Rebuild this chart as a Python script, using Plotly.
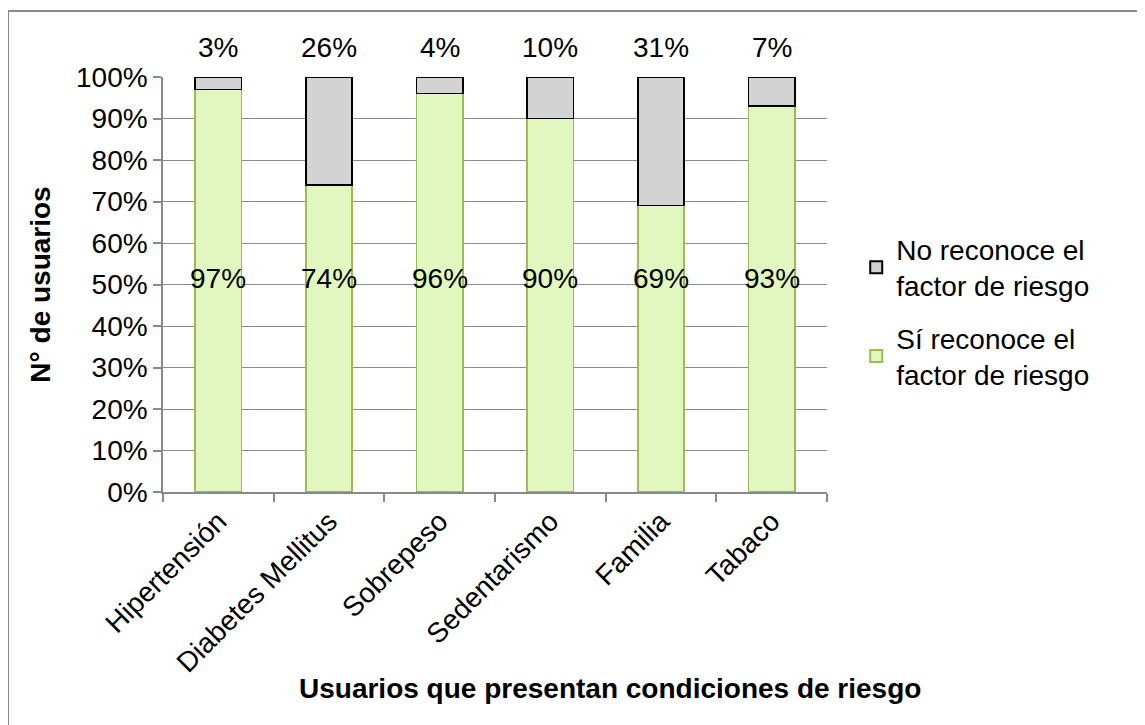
import plotly.graph_objects as go

categories = ["Hipertensión", "Diabetes Mellitus", "Sobrepeso", "Sedentarismo", "Familia", "Tabaco"]
si_reconoce = [97, 74, 96, 90, 69, 93]
no_reconoce = [3, 26, 4, 10, 31, 7]
series_names = ["Sí reconoce el<br>factor de riesgo", "No reconoce el<br>factor de riesgo"]
y_ticks = [0, 10, 20, 30, 40, 50, 60, 70, 80, 90, 100]

FONT = "Liberation Sans, Arial, sans-serif"
FS = 28

fig = go.Figure()
fig.add_trace(go.Bar(
    x=categories, y=si_reconoce, name=series_names[0], legendgroup="si", legendrank=2,
    marker=dict(color="#e2f7c0", line=dict(color="#9bbb59", width=1.5)),
))
fig.add_trace(go.Bar(
    x=categories, y=no_reconoce, name=series_names[1], legendgroup="no", legendrank=1,
    marker=dict(color="#d3d3d3", line=dict(color="#000000", width=1.5)),
))

# labels inside green bars and above the chart for gray segments
for c, s, n in zip(categories, si_reconoce, no_reconoce):
    fig.add_annotation(x=c, y=51.5, text=f"{s}%", showarrow=False,
                       xanchor="center", yanchor="middle",
                       font=dict(family=FONT, size=FS, color="black"),
                       xref="x", yref="y")
    fig.add_annotation(x=c, y=1.07, text=f"{n}%", showarrow=False,
                       xanchor="center", yanchor="middle",
                       font=dict(family=FONT, size=FS, color="black"),
                       xref="x", yref="paper")

# axis titles
fig.add_annotation(x=-0.185, y=0.5, xref="paper", yref="paper", text="<b>N° de usuarios</b>",
                   textangle=-90, showarrow=False, xanchor="center", yanchor="middle",
                   font=dict(family=FONT, size=FS, color="black"))
fig.add_annotation(x=0.673, y=-0.473, xref="paper", yref="paper",
                   text="<b>Usuarios que presentan condiciones de riesgo</b>",
                   showarrow=False, xanchor="center", yanchor="middle",
                   font=dict(family=FONT, size=FS, color="black"))

# outer chart border (left and top visible)
fig.add_shape(type="rect", xref="paper", yref="paper",
              x0=-0.2334, x1=1.6, y0=-0.7, y1=1.159,
              line=dict(color="#888888", width=2), fillcolor="rgba(0,0,0,0)", layer="below")

fig.update_layout(
    width=1137, height=717,
    margin=dict(l=155, r=318, t=69, b=233),
    paper_bgcolor="white", plot_bgcolor="white",
    barmode="stack", bargap=0.58,
    showlegend=True,
    legend=dict(x=1.044, y=0.645, xanchor="left", yanchor="top",
                traceorder="grouped", font=dict(family=FONT, size=FS, color="black"),
                itemsizing="constant", tracegroupgap=13, bgcolor="rgba(0,0,0,0)",
                itemwidth=30),
    font=dict(family=FONT, size=FS, color="black"),
    xaxis=dict(showline=True, linecolor="#888888", linewidth=1.5, automargin=False,
               ticks="outside", tickson="boundaries", ticklen=8, tickcolor="#888888", tickwidth=1.5,
               tickangle=-45, tickfont=dict(family=FONT, size=FS, color="black"),
               showgrid=False),
    yaxis=dict(range=[0, 100], tickvals=y_ticks, ticktext=[f"{v}%" for v in y_ticks],
               showline=True, linecolor="#888888", linewidth=1.5, automargin=False,
               ticks="outside", ticklen=8, tickcolor="#888888", tickwidth=1.5,
               showgrid=True, gridcolor="#8c8c8c", gridwidth=1, zeroline=False,
               tickfont=dict(family=FONT, size=FS, color="black")),
)

fig.write_html("out.html")
